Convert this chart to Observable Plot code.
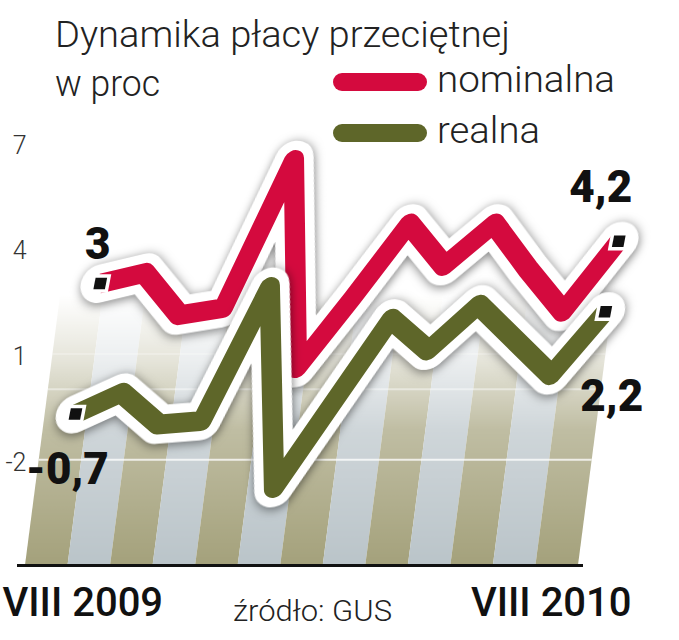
<!DOCTYPE html>
<html><head><meta charset="utf-8">
<script src="https://cdn.jsdelivr.net/npm/d3@7"></script>
<script src="https://cdn.jsdelivr.net/npm/@observablehq/plot@0.6"></script>
<style>
body{margin:0;background:#fff;}
#wrap{position:relative;width:679px;height:640px;overflow:hidden;}
#wrap svg{position:absolute;left:0;top:0;}
</style></head><body><div id="wrap"></div>
<script>
// ---- data ----
const months = ["VIII 2009","IX","X","XI","XII","I 2010","II","III","IV","V","VI","VII","VIII 2010"];
const nominalna = [3.0, 3.3, 2.1, 2.3, 6.5, 0.6, 2.6, 4.7, 3.5, 4.7, 3.4, 2.2, 4.2];
const realna    = [-0.7, -0.1, -1.0, -0.9, 2.9, -2.8, -0.4, 2.0, 1.1, 2.4, 1.4, 0.4, 2.2];
const yTicks = [7, 4, 1, -2];
const gridValues = [1, 0, -2];
const seriesNames = ["nominalna", "realna"];
const endLabels = {nominalna: ["3", "4,2"], realna: ["-0,7", "2,2"]};
const titleLines = ["Dynamika płacy przeciętnej", "w proc"];
const sourceText = "źródło: GUS";

// ---- styles ----
const colors = {nominalna: "#d40a3e", realna: "#5e6629"};
const stripeColors = ["#a4a17b", "#bac4c9"];
const W = 679, H = 640;
const lineShear = 0.19, stripeShear = 0.13;

const nomData = months.map((m, i) => ({i, month: m, v: nominalna[i]}));
const realData = months.map((m, i) => ({i, month: m, v: realna[i]}));
const stripeData = months.map((m, i) => ({i, month: m}));
const last = months.length - 1;

function seriesMarks(data, color, key) {
  return [
    Plot.line(data, {x: "i", y: "v", stroke: "#fff", strokeWidth: 39, strokeLinejoin: "round", strokeLinecap: "round", ariaDescription: "casing-" + key}),
    Plot.line(data, {x: "i", y: "v", stroke: color, strokeWidth: 20, strokeLinejoin: "round", strokeLinecap: "butt", ariaDescription: "line-" + key}),
    Plot.dot([data[0], data[data.length - 1]], {x: "i", y: "v", symbol: "square", r: 6.5, fill: "#111", stroke: "#fff", strokeWidth: 7, paintOrder: "stroke", ariaDescription: "dots-" + key})
  ];
}

const labelStyle = {fontSize: 44, fontWeight: 900, fill: "#111", lineAnchor: "bottom", fontFamily: "Roboto, sans-serif"};
const axisLabelStyle = {fontSize: 40, fontWeight: 500, fill: "#111", lineAnchor: "bottom", fontFamily: "Roboto, sans-serif", frameAnchor: "bottom"};

const plot = Plot.plot({
  width: W, height: H,
  marginLeft: 25, marginRight: 101, marginTop: 142, marginBottom: 75,
  x: {type: "linear", domain: [-0.5, 12.5], axis: null},
  y: {type: "linear", domain: [-5, 7], axis: null},
  style: {background: "transparent", fontFamily: "Roboto, sans-serif", overflow: "visible"},
  marks: [
    Plot.rect(stripeData, {x1: d => d.i - 0.5, x2: d => d.i + 0.5, y1: () => -5, y2: () => 7, fill: d => stripeColors[d.i % 2], ariaDescription: "stripes"}),
    Plot.ruleY(gridValues, {stroke: "#fff", strokeWidth: 2, ariaDescription: "grid"}),
    Plot.ruleY([-5], {stroke: "#111", strokeWidth: 3, insetLeft: -8, insetRight: -5}),
    ...seriesMarks(nomData, colors.nominalna, "nom"),
    ...seriesMarks(realData, colors.realna, "real"),
    Plot.text(yTicks, {y: d => d, text: d => String(d), frameAnchor: "left", textAnchor: "end", dx: 1, dy: 3, fontSize: 25, fontWeight: 300, fill: "#333"}),
    Plot.text([nomData[0]], {x: "i", y: "v", text: () => endLabels.nominalna[0], textAnchor: "middle", dx: 51, dy: -25, ...labelStyle}),
    Plot.text([nomData[last]], {x: "i", y: "v", text: () => endLabels.nominalna[1], textAnchor: "end", dx: 75, dy: -39, ...labelStyle}),
    Plot.text([realData[0]], {x: "i", y: "v", text: () => endLabels.realna[0], textAnchor: "end", dx: 62, dy: 70, ...labelStyle}),
    Plot.text([realData[last]], {x: "i", y: "v", text: () => endLabels.realna[1], textAnchor: "end", dx: 86, dy: 99, ...labelStyle}),
    Plot.text([nomData[0]], {x: "i", text: d => d.month, textAnchor: "middle", dx: 36, dy: 50, ...axisLabelStyle}),
    Plot.text([nomData[last]], {x: "i", text: d => d.month, textAnchor: "middle", dx: -6, dy: 50, ...axisLabelStyle})
  ]
});

// ---- decorations: fade mask, shear, shadows ----
const svg = d3.select(plot);
const y0 = plot.scale("y").apply(-5);
const defs = svg.insert("defs", ":first-child");
const lg = defs.append("linearGradient").attr("id", "fade").attr("gradientUnits", "userSpaceOnUse")
  .attr("x1", 0).attr("x2", 0).attr("y1", 295).attr("y2", y0);
[[0, 0], [0.24, 0.28], [0.5, 0.7], [1, 1]].forEach(([o, a]) =>
  lg.append("stop").attr("offset", o).attr("stop-color", "#fff").attr("stop-opacity", a));
const mask = defs.append("mask").attr("id", "fademask").attr("maskUnits", "userSpaceOnUse")
  .attr("maskContentUnits", "userSpaceOnUse")
  .attr("x", -300).attr("y", 0).attr("width", 1400).attr("height", H);
mask.append("rect").attr("x", -300).attr("y", 0).attr("width", 1400).attr("height", H).attr("fill", "url(#fade)");

function shearT(s) {
  const a = -Math.atan(s) * 180 / Math.PI;
  return `translate(0,${y0}) skewX(${a}) translate(0,${-y0})`;
}
function sel(key) { return svg.selectAll(`g[aria-description="${key}"]`); }
function applyT(key, t) {
  sel(key).each(function () {
    const old = this.getAttribute("transform");
    this.setAttribute("transform", t + (old ? " " + old : ""));
  });
}
["stripes", "grid"].forEach(k => { applyT(k, shearT(stripeShear)); sel(k).attr("mask", "url(#fademask)"); });
["casing-nom", "line-nom", "dots-nom", "casing-real", "line-real", "dots-real"].forEach(k => applyT(k, shearT(lineShear)));
["casing-nom", "casing-real"].forEach(k => sel(k).style("filter", "drop-shadow(1px 2px 5px rgba(0,0,0,0.5))"));

document.getElementById("wrap").appendChild(plot);

// ---- title, legend, source ----
const ov = d3.create("svg").attr("width", W).attr("height", H).style("pointer-events", "none")
  .attr("font-family", "Roboto, sans-serif").attr("fill", "#222");
function txt(s, x, y, size, len, weight) {
  ov.append("text").attr("x", x).attr("y", y).attr("font-size", size).attr("font-weight", weight || 300)
    .attr("textLength", len).attr("lengthAdjust", "spacingAndGlyphs").text(s);
}
txt(titleLines[0], 55, 47, 37, 455);
txt(titleLines[1], 55, 96, 37, 105);
const legendY = [82, 133];
seriesNames.forEach((n, k) => {
  ov.append("rect").attr("x", 333).attr("y", legendY[k] - 9).attr("width", 94).attr("height", 18)
    .attr("rx", 9).attr("fill", colors[n]);
});
txt(seriesNames[0], 437, 92, 37, 178);
txt(seriesNames[1], 437, 143, 37, 103);
txt(sourceText, 233, 621, 29, 159);
document.getElementById("wrap").appendChild(ov.node());
</script></body></html>
